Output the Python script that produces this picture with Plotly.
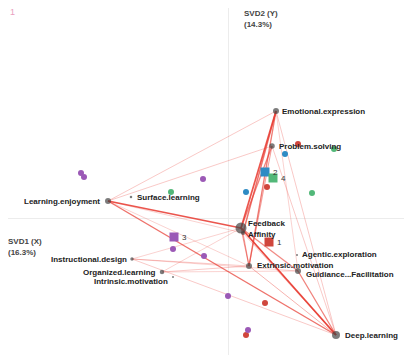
import plotly.graph_objects as go

# ---- data ----
var_names = ["Emotional.expression", "Problem.solving", "Learning.enjoyment", "Surface.learning",
             "Feedback", "Affinity", "Extrinsic.motivation", "Guidiance...Facilitation",
             "Agentic.exploration", "Deep.learning", "Instructional.design",
             "Organized.learning", "Intrinsic.motivation"]
var_x = [0.48, 0.44, -1.20, -0.97, 0.13, 0.15, 0.21, 0.70, 0.69, 1.08, -0.96, -0.66, -0.55]
var_y = [1.07, 0.72, 0.17, 0.21, -0.10, -0.15, -0.48, -0.53, -0.37, -1.17, -0.41, -0.54, -0.59]
var_size = [6, 5.5, 6, 2.5, 11, 4, 6, 6, 2, 8, 3.5, 4.5, 2]

# edges: (from, to, strength 0..1)
edges = [
    ("Feedback", "Deep.learning", 1.0),
    ("Feedback", "Emotional.expression", 0.9),
    ("Learning.enjoyment", "Feedback", 0.9),
    ("Learning.enjoyment", "Deep.learning", 0.7),
    ("Affinity", "Emotional.expression", 0.7),
    ("Extrinsic.motivation", "Emotional.expression", 0.65),
    ("Feedback", "Problem.solving", 0.6),
    ("Guidiance...Facilitation", "Deep.learning", 0.6),
    ("Feedback", "Guidiance...Facilitation", 0.55),
    ("Extrinsic.motivation", "Problem.solving", 0.4),
    ("Feedback", "Extrinsic.motivation", 0.45),
    ("Affinity", "Extrinsic.motivation", 0.4),
    ("Extrinsic.motivation", "Deep.learning", 0.3),
    ("Learning.enjoyment", "Emotional.expression", 0.2),
    ("Learning.enjoyment", "Problem.solving", 0.2),
    ("Emotional.expression", "Deep.learning", 0.2),
    ("Problem.solving", "Deep.learning", 0.2),
    ("Emotional.expression", "Guidiance...Facilitation", 0.15),
    ("Instructional.design", "Feedback", 0.15),
    ("Instructional.design", "Extrinsic.motivation", 0.2),
    ("Instructional.design", "Guidiance...Facilitation", 0.15),
    ("Instructional.design", "Deep.learning", 0.2),
    ("Organized.learning", "Feedback", 0.15),
    ("Organized.learning", "Extrinsic.motivation", 0.2),
    ("Organized.learning", "Guidiance...Facilitation", 0.15),
    ("Learning.enjoyment", "Extrinsic.motivation", 0.15),
    ("Learning.enjoyment", "Affinity", 0.15),
    ("Affinity", "Deep.learning", 0.2),
]

group_labels = ["1", "2", "3", "4"]
group_x = [0.41, 0.37, -0.54, 0.45]
group_y = [-0.24, 0.46, -0.19, 0.40]
group_colors = ["#d0463c", "#2e8bc4", "#9b59b6", "#52b879"]

pt_group = ["3", "3", "3", "3", "3", "3", "3",
            "4", "4", "4",
            "2", "2",
            "1", "1", "1", "1"]
pt_x = [-1.47, -1.44, -0.25, -0.55, -0.24, 0.00, 0.20,
        -0.57, 0.84, 1.06,
        0.57, 0.18,
        0.70, 0.39, 0.37, 0.18]
pt_y = [0.45, 0.41, 0.39, -0.31, -0.38, -0.78, -1.12,
        0.26, 0.25, 0.69,
        0.64, 0.26,
        0.74, 0.31, -0.85, -1.17]

# ---- label placement (pixel shifts) ----
label_shift = {
    "Emotional.expression": (4, 0, "left"),
    "Problem.solving": (5, 0, "left"),
    "Learning.enjoyment": (-6, 0, "right"),
    "Surface.learning": (4, 0, "left"),
    "Feedback": (5, 5, "left"),
    "Affinity": (3, -1, "left"),
    "Extrinsic.motivation": (6, 1, "left"),
    "Guidiance...Facilitation": (6, -3, "left"),
    "Agentic.exploration": (3, 1, "left"),
    "Deep.learning": (7, 0, "left"),
    "Instructional.design": (-3, 0, "right"),
    "Organized.learning": (-4, 0, "right"),
    "Intrinsic.motivation": (-3, -4, "right"),
}

W, H, OFF = 404, 347, 8  # page has an 8px body margin


def px(x):
    return (x - OFF) / W


def py(y):
    return 1 - (y - OFF) / H


fig = go.Figure()
idx = {n: i for i, n in enumerate(var_names)}

for a, b, w in edges:
    i, j = idx[a], idx[b]
    alpha = 0.18 + 0.77 * w
    fig.add_trace(go.Scatter(
        x=[var_x[i], var_x[j]], y=[var_y[i], var_y[j]], mode="lines",
        line=dict(color=f"rgba(232,60,50,{alpha:.2f})", width=0.6 + 1.2 * w),
        hoverinfo="skip", showlegend=False))

# individual points
for g, c in zip(group_labels, group_colors):
    xs = [x for x, gg in zip(pt_x, pt_group) if gg == g]
    ys = [y for y, gg in zip(pt_y, pt_group) if gg == g]
    fig.add_trace(go.Scatter(x=xs, y=ys, mode="markers",
                             marker=dict(color=c, size=6, line=dict(width=0)),
                             showlegend=False))

# group centroids
fig.add_trace(go.Scatter(x=group_x, y=group_y, mode="markers",
                         marker=dict(color=group_colors, size=9, symbol="square", line=dict(width=0)),
                         showlegend=False))

# variable nodes
fig.add_trace(go.Scatter(x=var_x, y=var_y, mode="markers",
                         marker=dict(color="#444444", size=var_size, line=dict(width=0)),
                         showlegend=False))

lab_font = dict(family="Liberation Sans, Arial", size=8, color="#222222", weight="bold")
annotations = []
for n, x, y in zip(var_names, var_x, var_y):
    dx, dy, anc = label_shift[n]
    annotations.append(dict(x=x, y=y, text=n, showarrow=False, xanchor=anc, yanchor="middle",
                            xshift=dx, yshift=dy, font=lab_font))
for g, x, y in zip(group_labels, group_x, group_y):
    annotations.append(dict(x=x, y=y, text=g, showarrow=False, xanchor="left", yanchor="middle",
                            xshift=6, yshift=0,
                            font=dict(family="Liberation Sans, Arial", size=8, color="#333333")))

axis_font = dict(family="Liberation Sans, Arial", size=8, color="#444444", weight="bold")
annotations += [
    dict(xref="paper", yref="paper", x=px(242), y=py(14), text="SVD2 (Y)", showarrow=False,
         xanchor="left", yanchor="middle", font=axis_font),
    dict(xref="paper", yref="paper", x=px(242), y=py(25), text="(14.3%)", showarrow=False,
         xanchor="left", yanchor="middle", font=axis_font),
    dict(xref="paper", yref="paper", x=px(6), y=py(242), text="SVD1 (X)", showarrow=False,
         xanchor="left", yanchor="middle", font=axis_font),
    dict(xref="paper", yref="paper", x=px(6), y=py(253), text="(16.3%)", showarrow=False,
         xanchor="left", yanchor="middle", font=axis_font),
    dict(xref="paper", yref="paper", x=0, y=py(12), text="1", showarrow=False,
         xanchor="left", yanchor="middle",
         font=dict(family="Liberation Sans, Arial", size=9, color="#e9a0c0")),
]

fig.update_layout(
    width=W, height=H,
    margin=dict(l=0, r=0, t=0, b=0),
    paper_bgcolor="white", plot_bgcolor="white",
    xaxis=dict(range=[(OFF - 228) / 100, (OFF + W - 228) / 100], showgrid=False, showticklabels=False,
               ticks="", zeroline=True, zerolinecolor="#ececec", zerolinewidth=1, showline=False,
               fixedrange=True),
    yaxis=dict(range=[(218 - OFF - H) / 100, (218 - OFF) / 100], showgrid=False, showticklabels=False,
               ticks="", zeroline=True, zerolinecolor="#ececec", zerolinewidth=1, showline=False,
               fixedrange=True),
    annotations=annotations,
    showlegend=False,
)

fig.write_html("out.html")
